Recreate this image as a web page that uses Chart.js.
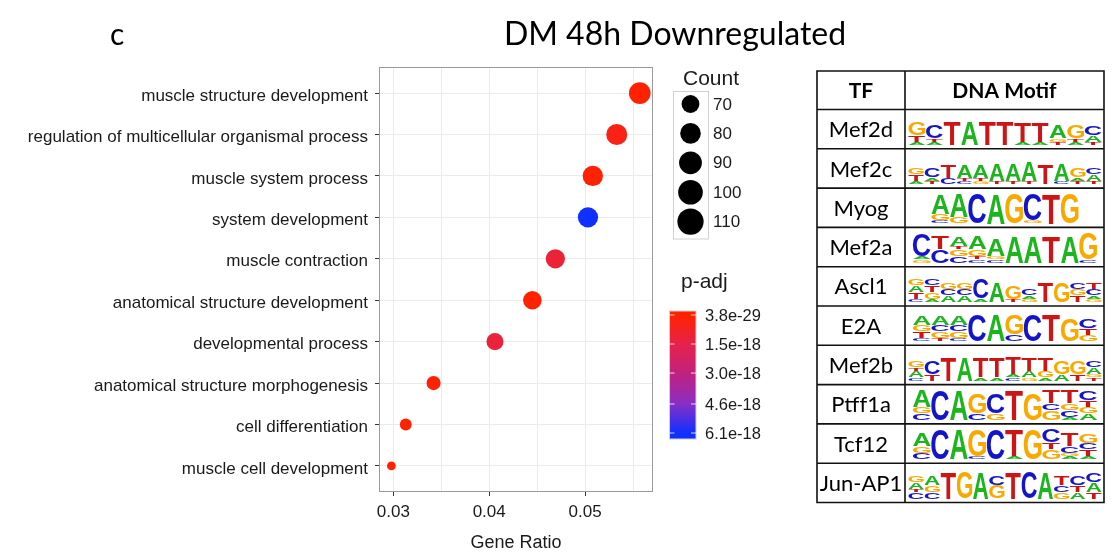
<!DOCTYPE html>
<html>
<head>
<meta charset="utf-8">
<script src="https://cdn.jsdelivr.net/npm/chart.js@4"></script>
<style>
  body { margin: 0; background: #fff; }
  canvas { display: block; }
</style>
</head>
<body>
<canvas id="chart" width="1120" height="555"></canvas>
<script>
// GO terms, top to bottom
const terms = [
    "muscle structure development",
    "regulation of multicellular organismal process",
    "muscle system process",
    "system development",
    "muscle contraction",
    "anatomical structure development",
    "developmental process",
    "anatomical structure morphogenesis",
    "cell differentiation",
    "muscle cell development"
];
const geneRatio = [0.0557, 0.0533, 0.0508, 0.0503, 0.0469, 0.0445, 0.0406, 0.0342, 0.0313, 0.0298];
const counts = [110, 105, 100, 99, 93, 88, 80, 68, 62, 59];
const padj = [3.8e-29, 4.3e-19, 1e-22, 6.1e-18, 1.1e-18, 1e-21, 1.2e-18, 1e-20, 1e-25, 1e-24];

const xTickLabels = [0.03, 0.04, 0.05];
const xMinorTicks = [0.035, 0.045, 0.055];
const countBreaks = [70, 80, 90, 100, 110];
const padjBreaks = [3.8e-29, 1.5e-18, 3.0e-18, 4.6e-18, 6.1e-18];
const padjLabels = ["3.8e-29", "1.5e-18", "3.0e-18", "4.6e-18", "6.1e-18"];

// motif table: each column = letters top to bottom, digit = stack height
const tfNames = ["Mef2d", "Mef2c", "Myog", "Mef2a", "Ascl1", "E2A", "Mef2b", "Ptff1a", "Tcf12", "Jun-AP1"];
const motifs = [
    "G4T2A1 C4T1A1 T7 A7 T7 T7 T6A1 T6A1 A4G1T1 G4T1A1 C3A2T1",
    "G2T2A1 C3A1T1 T4C2 A4T1C1 A4T1G1 A5T1 A5T1 A6T1 T6 A5C1 G3A1T1 C2A2T1",
    "A6G2C1 A7G2 C9 A9 G9 C8G1 T9 G9",
    "C7A1G1 T4C4 A3T1G2C2 A4G2T1C1 A5G1C1 A8 A8 T8 A8 G8C1",
    "G2A2T2C1 C2T2G2A1 G2C2A2 G2C2A2 C6A1 A6 G4T1 C2A1G1 T6 G6 C2G2T2 T2C2A1G1",
    "A3G2T2C1 A3C2G2T1 A3C2G2C1 C8 A8 G6C2 C8 T8 G7 C3T2G2",
    "G2T1A2C1 C4T2 T7 A7 T6A1 T6A1 T5A1C1 T4A2G1 T4G2A1 G4A2 G4T2 C2A2G1T1",
    "A5G2C2 C9 A9 G6C2 C6G2 T9 G8 T4C2G3 T4G2C2A1 C3T2G2A2",
    "A4G2C2 C9 A9 G8C1 C9 T8A1 G9 C4T2G3 T4C2G1A1 G3C2T2A1",
    "G2A2T1C2 A3G2C2 T8 G8 A8 C3G4 T8 C8 A8 T3C2G2 C3T2A2 C3A3T2"
];

const AXIS_FONT = '"Liberation Sans", Arial, Helvetica, sans-serif';
const TABLE_FONT = 'Lato, "Open Sans", sans-serif';
const LETTER_COLORS = { A: "#1db51d", C: "#1414c8", G: "#f8a900", T: "#cc1515" };

const cMin = Math.min(...counts), cMax = Math.max(...counts);
function dotDiameter(c) {
    const s = Math.sqrt(Math.max(0, (c - cMin) / (cMax - cMin)));
    return 8.7 + 13 * s;
}

const pMin = Math.min(...padj), pMax = Math.max(...padj);
const gradStops = [
    [0, [255, 34, 0]],
    [0.25, [229, 34, 76]],
    [0.5, [192, 34, 127]],
    [0.75, [138, 46, 196]],
    [1, [16, 48, 255]]
];
function gradColor(t) {
    t = Math.min(1, Math.max(0, t));
    for (let i = 1; i < gradStops.length; i++) {
        const [t1, c1] = gradStops[i];
        const [t0, c0] = gradStops[i - 1];
        if (t <= t1) {
            const f = (t - t0) / (t1 - t0);
            const c = c0.map((v, k) => Math.round(v + (c1[k] - v) * f));
            return `rgb(${c[0]},${c[1]},${c[2]})`;
        }
    }
    return "rgb(16,48,255)";
}
const padjT = p => (p - pMin) / (pMax - pMin);

function drawLetter(ctx, ch, x, y, w, h) {
    if (h < 0.5) return;
    ctx.save();
    ctx.font = 'bold 100px "Liberation Sans", Arial, sans-serif';
    ctx.textAlign = "left";
    ctx.textBaseline = "alphabetic";
    const m = ctx.measureText(ch);
    const gw = m.actualBoundingBoxLeft + m.actualBoundingBoxRight;
    const gh = m.actualBoundingBoxAscent + m.actualBoundingBoxDescent;
    ctx.translate(x, y);
    ctx.scale(w / gw, h / gh);
    ctx.fillStyle = LETTER_COLORS[ch];
    ctx.fillText(ch, m.actualBoundingBoxLeft, m.actualBoundingBoxAscent);
    ctx.restore();
}

function drawLogo(ctx, motif, x0, x1, baseY, unit) {
    const cols = motif.split(" ");
    const cw = Math.min((x1 - x0) / cols.length, 18.5);
    const start = (x0 + x1) / 2 - cw * cols.length / 2;
    cols.forEach((col, i) => {
        const parts = col.match(/[ACGT]\d/g);
        const total = parts.reduce((s, p) => s + Number(p[1]), 0) * unit;
        let y = baseY - total;
        parts.forEach(p => {
            const h = Number(p[1]) * unit;
            drawLetter(ctx, p[0], start + i * cw + 0.4, y, cw - 0.8, h - 0.4);
            y += h;
        });
    });
}

const decorations = {
    id: "decorations",
    afterDraw(chart) {
        const ctx = chart.ctx;
        const area = chart.chartArea;
        ctx.save();

        // panel border
        ctx.strokeStyle = "#9a9a9a";
        ctx.lineWidth = 1;
        ctx.strokeRect(area.left + 0.5, area.top + 0.5, area.right - area.left - 1, area.bottom - area.top - 1);

        // panel letter and title
        ctx.fillStyle = "#000";
        ctx.textBaseline = "alphabetic";
        ctx.textAlign = "left";
        ctx.font = '30px ' + TABLE_FONT;
        ctx.fillText("c", 110, 45);
        ctx.textAlign = "center";
        ctx.font = '32px ' + TABLE_FONT;
        ctx.fillText("DM 48h Downregulated", 675, 45);

        // x axis title
        ctx.font = '18px ' + AXIS_FONT;
        ctx.fillStyle = "#1a1a1a";
        ctx.textBaseline = "middle";
        ctx.fillText("Gene Ratio", (area.left + area.right) / 2, 543);

        // Count legend
        ctx.textAlign = "left";
        ctx.font = '21px ' + AXIS_FONT;
        ctx.fillText("Count", 683, 79);
        ctx.strokeStyle = "#d0d0d0";
        ctx.strokeRect(673.5, 91.5, 35, 147.5);
        ctx.font = '17px ' + AXIS_FONT;
        countBreaks.forEach((c, i) => {
            const y = 104 + i * 29.4;
            ctx.fillStyle = "#000";
            ctx.beginPath();
            ctx.arc(690.5, y, dotDiameter(c) * 1.21 / 2, 0, Math.PI * 2);
            ctx.fill();
            ctx.fillStyle = "#1a1a1a";
            ctx.fillText(String(c), 713, y + 1);
        });

        // p-adj colour bar
        ctx.font = '21px ' + AXIS_FONT;
        ctx.fillText("p-adj", 681, 282);
        const barX = 669.5, barW = 26.5, barTop = 311, barBot = 439;
        const lblTop = 315, lblBot = 433;
        const g = ctx.createLinearGradient(0, lblTop, 0, lblBot);
        for (let k = 0; k <= 20; k++) g.addColorStop(k / 20, gradColor(k / 20));
        ctx.fillStyle = g;
        ctx.fillRect(barX, barTop, barW, barBot - barTop);
        ctx.strokeStyle = "#d0d0d0";
        ctx.strokeRect(barX, barTop, barW, barBot - barTop);
        ctx.font = '16.5px ' + AXIS_FONT;
        padjBreaks.forEach((p, i) => {
            const y = lblTop + (lblBot - lblTop) * padjT(p);
            ctx.strokeStyle = "rgba(255,255,255,0.8)";
            ctx.beginPath();
            ctx.moveTo(barX, y); ctx.lineTo(barX + 5, y);
            ctx.moveTo(barX + barW - 5, y); ctx.lineTo(barX + barW, y);
            ctx.stroke();
            ctx.fillStyle = "#1a1a1a";
            ctx.fillText(padjLabels[i], 705, y + 1);
        });

        // TF / motif table
        const tL = 817, tM = 905, tR = 1104, tTop = 71, headH = 38.5, rowH = 39.3;
        const tBot = tTop + headH + rowH * tfNames.length;
        ctx.strokeStyle = "#111";
        ctx.lineWidth = 1.6;
        ctx.beginPath();
        ctx.rect(tL, tTop, tR - tL, tBot - tTop);
        ctx.moveTo(tM, tTop); ctx.lineTo(tM, tBot);
        for (let r = 0; r < tfNames.length; r++) {
            const y = tTop + headH + rowH * r;
            ctx.moveTo(tL, y); ctx.lineTo(tR, y);
        }
        ctx.stroke();

        ctx.fillStyle = "#000";
        ctx.textAlign = "center";
        ctx.textBaseline = "middle";
        ctx.font = 'bold 21px ' + TABLE_FONT;
        ctx.fillText("TF", (tL + tM) / 2, tTop + headH / 2 + 1);
        ctx.fillText("DNA Motif", (tM + tR) / 2, tTop + headH / 2 + 1);
        ctx.font = '22px ' + TABLE_FONT;
        tfNames.forEach((name, r) => {
            const yTop = tTop + headH + rowH * r;
            ctx.fillStyle = "#000";
            ctx.fillText(name, (tL + tM) / 2, yTop + rowH / 2 + 1);
        });
        tfNames.forEach((name, r) => {
            const yTop = tTop + headH + rowH * r;
            drawLogo(ctx, motifs[r], tM + 3, tR - 2, yTop + rowH - 3.5, 3.33);
        });

        ctx.restore();
    }
};

new Chart(document.getElementById("chart"), {
    type: "scatter",
    data: {
        datasets: [{
            data: terms.map((t, i) => ({ x: geneRatio[i], y: i })),
            pointRadius: c => dotDiameter(counts[c.dataIndex]) / 2,
            pointHoverRadius: c => dotDiameter(counts[c.dataIndex]) / 2,
            backgroundColor: c => gradColor(padjT(padj[c.dataIndex])),
            borderWidth: 0
        }]
    },
    options: {
        responsive: false,
        animation: false,
        events: [],
        layout: { padding: { left: 0, top: 67, right: 467, bottom: 0 } },
        plugins: {
            legend: { display: false },
            tooltip: { enabled: false }
        },
        scales: {
            x: {
                type: "linear",
                min: 0.02851,
                max: 0.05708,
                afterBuildTicks: s => {
                    s.ticks = [...xTickLabels, ...xMinorTicks].sort((a, b) => a - b).map(v => ({ value: v }));
                },
                afterFit: s => { s.height = 63; },
                ticks: {
                    padding: 6,
                    color: "#1a1a1a",
                    font: { size: 17, family: AXIS_FONT },
                    callback: v => xTickLabels.some(t => Math.abs(t - v) < 1e-9) ? v.toFixed(2) : ""
                },
                grid: {
                    color: "#ebebeb",
                    lineWidth: 1,
                    tickLength: 4,
                    tickColor: c => xTickLabels.some(t => Math.abs(t - c.tick.value) < 1e-9) ? "#333" : "rgba(0,0,0,0)"
                },
                border: { display: false }
            },
            y: {
                type: "linear",
                reverse: true,
                min: -0.63,
                max: 9.63,
                afterBuildTicks: s => {
                    s.ticks = terms.map((t, i) => ({ value: i }));
                },
                afterFit: s => { s.width = 379; },
                ticks: {
                    autoSkip: false,
                    padding: 7,
                    labelOffset: 3,
                    color: "#1a1a1a",
                    font: { size: 17, family: AXIS_FONT },
                    callback: v => terms[v]
                },
                grid: {
                    color: "#ebebeb",
                    lineWidth: 1,
                    tickLength: 4,
                    tickColor: "#333"
                },
                border: { display: false }
            }
        }
    },
    plugins: [decorations]
});
</script>
</body>
</html>
